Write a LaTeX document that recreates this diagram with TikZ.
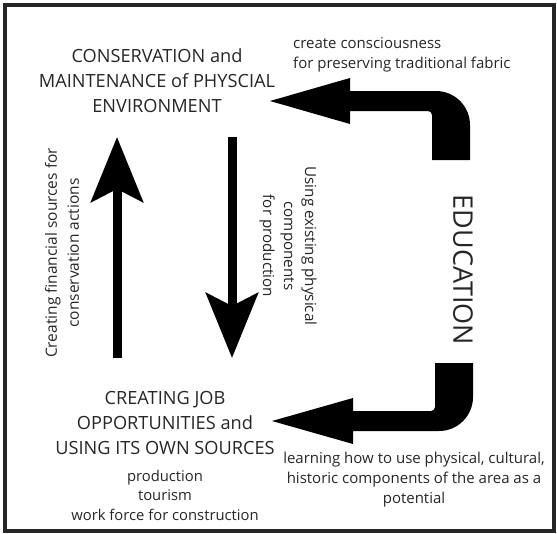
\documentclass[tikz,border=0pt]{standalone}
\usepackage{fontspec}
\setmainfont{Open Sans}
\usetikzlibrary{arrows.meta}
\begin{document}
\begin{tikzpicture}[x=1pt,y=-1pt,
  bigtext/.style={align=center,text=black!85,font=\fontsize{18.2}{25}\selectfont,inner sep=0pt},
  smalltext/.style={text=black!85,font=\fontsize{15}{20}\selectfont,inner sep=0pt},
  flowarrow/.style={line width=9pt,-{Stealth[length=65pt,width=52pt,inset=13pt]}},
  bentarrow/.style={fill=black}]
\useasboundingbox (0,0) rectangle (557,533);
% outer frame
\draw[line width=3.5pt,black!85] (5,5) rectangle (554,531);

% main texts
\node[bigtext] (cons) at (157,81) {CONSERVATION and\\MAINTENANCE of PHYSCIAL\\ENVIRONMENT};
\node[bigtext] (job) at (165,423) {CREATING JOB\\OPPORTUNITIES and\\USING ITS OWN SOURCES};
\node[smalltext,align=center,font=\fontsize{14.8}{19.5}\selectfont] (jobsub) at (165,495) {production\\tourism\\work force for construction};
\node[smalltext,align=left,anchor=west] (aware) at (293,55) {create consciousness\\for preserving traditional fabric};
\node[smalltext,align=center] (learn) at (414,480) {learning how to use physical, cultural,\\historic components of the area as a\\potential};
\node[smalltext,align=center,rotate=90,font=\fontsize{15.5}{22}\selectfont] (finance) at (62,253) {Creating financial sources for\\conservation actions};
\node[smalltext,align=center,rotate=-90,font=\fontsize{15.2}{21}\selectfont] (using) at (288,246) {Using existing physical\\components\\for production};
\node[text=black!85,font=\fontsize{27}{30}\selectfont,inner sep=0pt,rotate=-90] (edu) at (463,270) {EDUCATION};

% vertical flows
\coordinate (upfrom) at (117,358);
\coordinate (upto) at (117,137);
\coordinate (downfrom) at (232,137);
\coordinate (downto) at (232,358);
\draw[flowarrow] (upfrom) -- (upto);
\draw[flowarrow] (downfrom) -- (downto);

% bent arrows from EDUCATION
\fill[bentarrow] (270,101) -- (350,78) -- (350,91)
  [rounded corners=34pt] -- (470,91) [sharp corners] -- (470,160) -- (432,160)
  [rounded corners=4pt] -- (432,111) [sharp corners] -- (350,111) -- (350,124) -- cycle;
\fill[bentarrow] (272,421) -- (353,398) -- (353,411)
  [rounded corners=4pt] -- (435,411) [sharp corners] -- (435,363) -- (473,363)
  [rounded corners=34pt] -- (473,431) [sharp corners] -- (353,431) -- (353,444) -- cycle;
\end{tikzpicture}
\end{document}
